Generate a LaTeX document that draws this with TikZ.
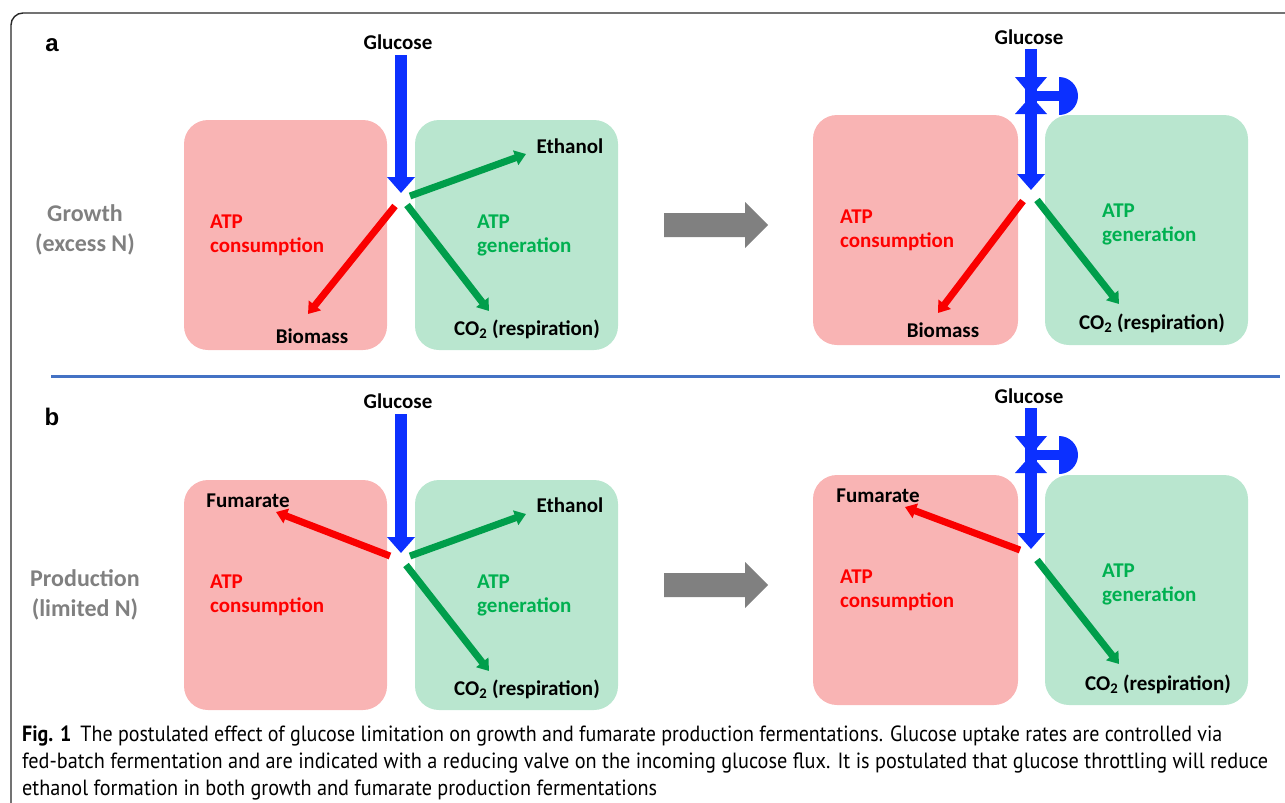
\documentclass[tikz,border=0pt]{standalone}
\usepackage{fontspec}
\usepackage{graphicx}
\setmainfont{Carlito}
\newfontfamily\capfont{PT Sans}
\newfontfamily\arialf{Liberation Sans}
\usetikzlibrary{arrows.meta}
\definecolor{boxred}{RGB}{249,180,180}
\definecolor{boxgreen}{RGB}{185,230,207}
\definecolor{txtred}{RGB}{255,0,0}
\definecolor{txtgreen}{RGB}{0,176,80}
\definecolor{arrgreen}{RGB}{0,158,75}
\definecolor{arrred}{RGB}{250,0,0}
\definecolor{flux}{RGB}{12,48,255}
\definecolor{sepblue}{RGB}{68,114,196}
\definecolor{graytxt}{RGB}{128,128,128}
\definecolor{framec}{RGB}{40,40,40}
\begin{document}
\begin{tikzpicture}[x=1pt,y=-1pt,
  lbl/.style={font=\fontsize{21}{24}\selectfont\bfseries, inner sep=0},
  atpc/.style={lbl, text=txtred, align=left, anchor=west},
  atpg/.style={lbl, text=txtgreen, align=left, anchor=west},
  cond/.style={font=\fontsize{24}{30}\selectfont\bfseries, text=graytxt, align=center, inner sep=0},
  panel/.style={font=\arialf\fontsize{24}{28}\selectfont\bfseries, inner sep=0, anchor=base},
  redbox/.style={fill=boxred, rounded corners=24pt},
  greenbox/.style={fill=boxgreen, rounded corners=24pt},
  gflux/.style={draw=arrgreen, line width=7pt, -{Triangle[length=11pt,width=15pt]}},
  rflux/.style={draw=arrred, line width=7pt, -{Triangle[length=11pt,width=15pt]}},
  bflux/.style={draw=flux, line width=12pt, -{Triangle[length=16pt,width=27pt]}},
  bigarrow/.style={fill=graytxt},
  capline/.style={anchor=base west, inner sep=0, font=\capfont\fontsize{22}{24}\selectfont}
]
\useasboundingbox (0,0) rectangle (1285,803);
% frame
\draw[framec, line width=1.4pt, rounded corners=12pt] (11,803) -- (11,13) -- (1285,13);
% separator
\draw[sepblue, line width=3pt] (51,376) -- (1280,376);
\node[panel] (pa) at (52,51) {a};
\node[panel] (pb) at (52,425) {b};

% ---------- row labels ----------
\node[cond] (growth) at (85,230) {Growth\\(excess N)};
\node[cond] (prod) at (85,595) {Production\\(limited N)};

% ---------- big gray arrows ----------
\fill[bigarrow] (664,213) -- (745,213) -- (745,202) -- (768,225) -- (745,248) -- (745,237) -- (664,237) -- cycle;
\fill[bigarrow] (664,573) -- (745,573) -- (745,562) -- (768,585) -- (745,608) -- (745,597) -- (664,597) -- cycle;

% ================= panel a, left =================
\fill[redbox] (184,120) rectangle (387,350);
\fill[greenbox] (415,120) rectangle (618,350);
\node[lbl] (glucA) at (398,42) {Glucose};
\node[lbl] (ethA) at (570,146) {Ethanol};
\node[lbl] (bioA) at (312,336) {Biomass};
\node[lbl] (co2A) at (527,329) {CO\textsubscript{2} (respiration)};
\node[atpc] (atpcA) at (210,235) {ATP\\consumption};
\node[atpg] (atpgA) at (477,235) {ATP\\generation};
\coordinate (gA0) at (401,55);
\coordinate (gA1) at (401,193);
\coordinate (eA0) at (410,196);
\coordinate (eA1) at (526,154);
\coordinate (bA0) at (395,206);
\coordinate (bA1) at (308,314);
\coordinate (cA0) at (407,205);
\coordinate (cA1) at (489,311);
\draw[bflux] (gA0) -- (gA1);
\draw[gflux] (eA0) -- (eA1);
\draw[rflux] (bA0) -- (bA1);
\draw[gflux] (cA0) -- (cA1);

% ================= panel a, right =================
\fill[redbox] (813,115) rectangle (1018,345);
\fill[greenbox] (1045,115) rectangle (1248,345);
\node[lbl] (glucA2) at (1029,37) {Glucose};
\node[lbl] (bioA2) at (943,330) {Biomass};
\node[lbl] (co2A2) at (1152,323) {CO\textsubscript{2} (respiration)};
\node[atpc] (atpcA2) at (840,230) {ATP\\consumption};
\node[atpg] (atpgA2) at (1102,224) {ATP\\generation};
\coordinate (gR0) at (1031,49);
\coordinate (gR1) at (1031,190);
\coordinate (bR0) at (1023,201);
\coordinate (bR1) at (938,313);
\coordinate (cR0) at (1037,200);
\coordinate (cR1) at (1119,304);
\draw[bflux] (gR0) -- (gR1);
\draw[rflux] (bR0) -- (bR1);
\draw[gflux] (cR0) -- (cR1);
% valve
\fill[flux] (1015,77) -- (1047,77) -- (1031,96) -- cycle;
\fill[flux] (1015,114) -- (1047,114) -- (1031,96) -- cycle;
\fill[flux] (1031,91) rectangle (1060,101);
\fill[flux] (1059,77) arc[start angle=90, end angle=-90, radius=19pt] -- cycle;

% ================= panel b, left =================
\fill[redbox] (184,480) rectangle (387,710);
\fill[greenbox] (415,480) rectangle (618,710);
\node[lbl] (glucB) at (398,401) {Glucose};
\node[lbl] (fumB) at (248,501) {Fumarate};
\node[lbl] (ethB) at (570,505) {Ethanol};
\node[lbl] (co2B) at (527,689) {CO\textsubscript{2} (respiration)};
\node[atpc] (atpcB) at (210,595) {ATP\\consumption};
\node[atpg] (atpgB) at (477,595) {ATP\\generation};
\coordinate (gB0) at (401,414);
\coordinate (gB1) at (401,553);
\coordinate (eB0) at (410,556);
\coordinate (eB1) at (526,514);
\coordinate (fB0) at (390,556);
\coordinate (fB1) at (276,512);
\coordinate (cB0) at (406,565);
\coordinate (cB1) at (489,671);
\draw[bflux] (gB0) -- (gB1);
\draw[gflux] (eB0) -- (eB1);
\draw[rflux] (fB0) -- (fB1);
\draw[gflux] (cB0) -- (cB1);

% ================= panel b, right =================
\fill[redbox] (813,475) rectangle (1018,705);
\fill[greenbox] (1045,475) rectangle (1248,705);
\node[lbl] (glucB2) at (1029,396) {Glucose};
\node[lbl] (fumB2) at (878,496) {Fumarate};
\node[lbl] (co2B2) at (1158,684) {CO\textsubscript{2} (respiration)};
\node[atpc] (atpcB2) at (840,590) {ATP\\consumption};
\node[atpg] (atpgB2) at (1102,584) {ATP\\generation};
\coordinate (gS0) at (1031,408);
\coordinate (gS1) at (1031,549);
\coordinate (fS0) at (1020,550);
\coordinate (fS1) at (905,507);
\coordinate (cS0) at (1037,560);
\coordinate (cS1) at (1119,664);
\draw[bflux] (gS0) -- (gS1);
\draw[rflux] (fS0) -- (fS1);
\draw[gflux] (cS0) -- (cS1);
% valve
\fill[flux] (1015,436) -- (1047,436) -- (1031,455) -- cycle;
\fill[flux] (1015,473) -- (1047,473) -- (1031,455) -- cycle;
\fill[flux] (1031,450) rectangle (1060,460);
\fill[flux] (1059,436) arc[start angle=90, end angle=-90, radius=19pt] -- cycle;

% ================= caption =================
\node[capline] (cap1) at (22,741) {\resizebox{1200pt}{\height}{\textbf{Fig. 1}\hspace{0.45em}The postulated effect of glucose limitation on growth and fumarate production fermentations. Glucose uptake rates are controlled via}};
\node[capline] (cap2) at (22,768) {\resizebox{1246pt}{\height}{fed-batch fermentation and are indicated with a reducing valve on the incoming glucose flux. It is postulated that glucose throttling will reduce}};
\node[capline] (cap3) at (22,795) {\resizebox{635pt}{\height}{ethanol formation in both growth and fumarate production fermentations}};
\end{tikzpicture}
\end{document}
